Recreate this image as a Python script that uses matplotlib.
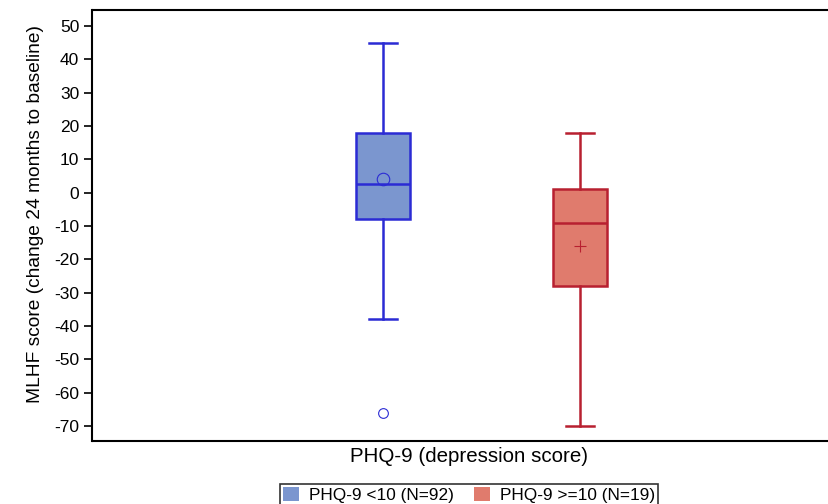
import matplotlib.pyplot as plt
from matplotlib.patches import Patch

plt.rcParams['font.family'] = ['Liberation Sans', 'DejaVu Sans']
plt.rcParams['axes.unicode_minus'] = False

labels = ["PHQ-9 <10 (N=92)", "PHQ-9 >=10 (N=19)"]
q1 = [-8, -28]
med = [2.5, -9]
q3 = [18, 1]
whislo = [-38, -70]
whishi = [45, 18]
means = [4, -16]
fliers = [[-66], []]

fills = ["#7b96cf", "#e07b6d"]
edges = ["#2b2bd4", "#b82030"]
mean_markers = ["o", "+"]

fig = plt.figure(figsize=(8.29, 5.04), dpi=100)
ax = fig.add_axes([92.5 / 829, 63 / 504, (830 - 92.5) / 829, 431 / 504])

for i in range(2):
    st = [dict(label=labels[i], q1=q1[i], med=med[i], q3=q3[i],
               whislo=whislo[i], whishi=whishi[i], mean=means[i],
               fliers=fliers[i])]
    c = edges[i]
    ax.bxp(st, positions=[i + 1], widths=0.279, capwidths=0.142,
           patch_artist=True, showmeans=True,
           boxprops=dict(facecolor=fills[i], edgecolor=c, linewidth=1.8),
           medianprops=dict(color=c, linewidth=1.8),
           whiskerprops=dict(color=c, linewidth=1.8),
           capprops=dict(color=c, linewidth=1.8),
           meanprops=dict(marker=mean_markers[i], markerfacecolor='none',
                          markeredgecolor=c, markersize=9, markeredgewidth=0.8),
           flierprops=dict(marker='o', markerfacecolor='none',
                           markeredgecolor=c, markersize=7, markeredgewidth=0.8))

ax.set_xlim(-0.4746, 3.269)
ax.set_ylim(-74.5, 54.8)
ax.set_yticks(range(-70, 51, 10))
ax.set_xticks([])
ax.tick_params(axis='y', labelsize=12.5, length=6, width=1.2)
for s in ax.spines.values():
    s.set_linewidth(1.5)
ax.set_ylabel("MLHF score (change 24 months to baseline)", fontsize=13.8)
ax.yaxis.set_label_coords(-0.066, 0.527)
ax.set_xlabel("PHQ-9 (depression score)", fontsize=14.8)
ax.xaxis.set_label_coords((469 - 92.5) / 737.5, -0.015)
ax.xaxis.label.set_va('top')

handles = [Patch(facecolor=fills[i], edgecolor='none', label=labels[i]) for i in range(2)]
leg = fig.legend(handles=handles, loc='upper center', bbox_to_anchor=(0.566, 1 - 484 / 504),
                 ncol=2, fontsize=12.4, frameon=True, fancybox=False, edgecolor='black',
                 handlelength=0.9, handleheight=0.9, borderpad=0.15, borderaxespad=0,
                 columnspacing=1.2, handletextpad=0.6)
leg.get_frame().set_linewidth(1.2)

fig.savefig("out.png", dpi=100)
